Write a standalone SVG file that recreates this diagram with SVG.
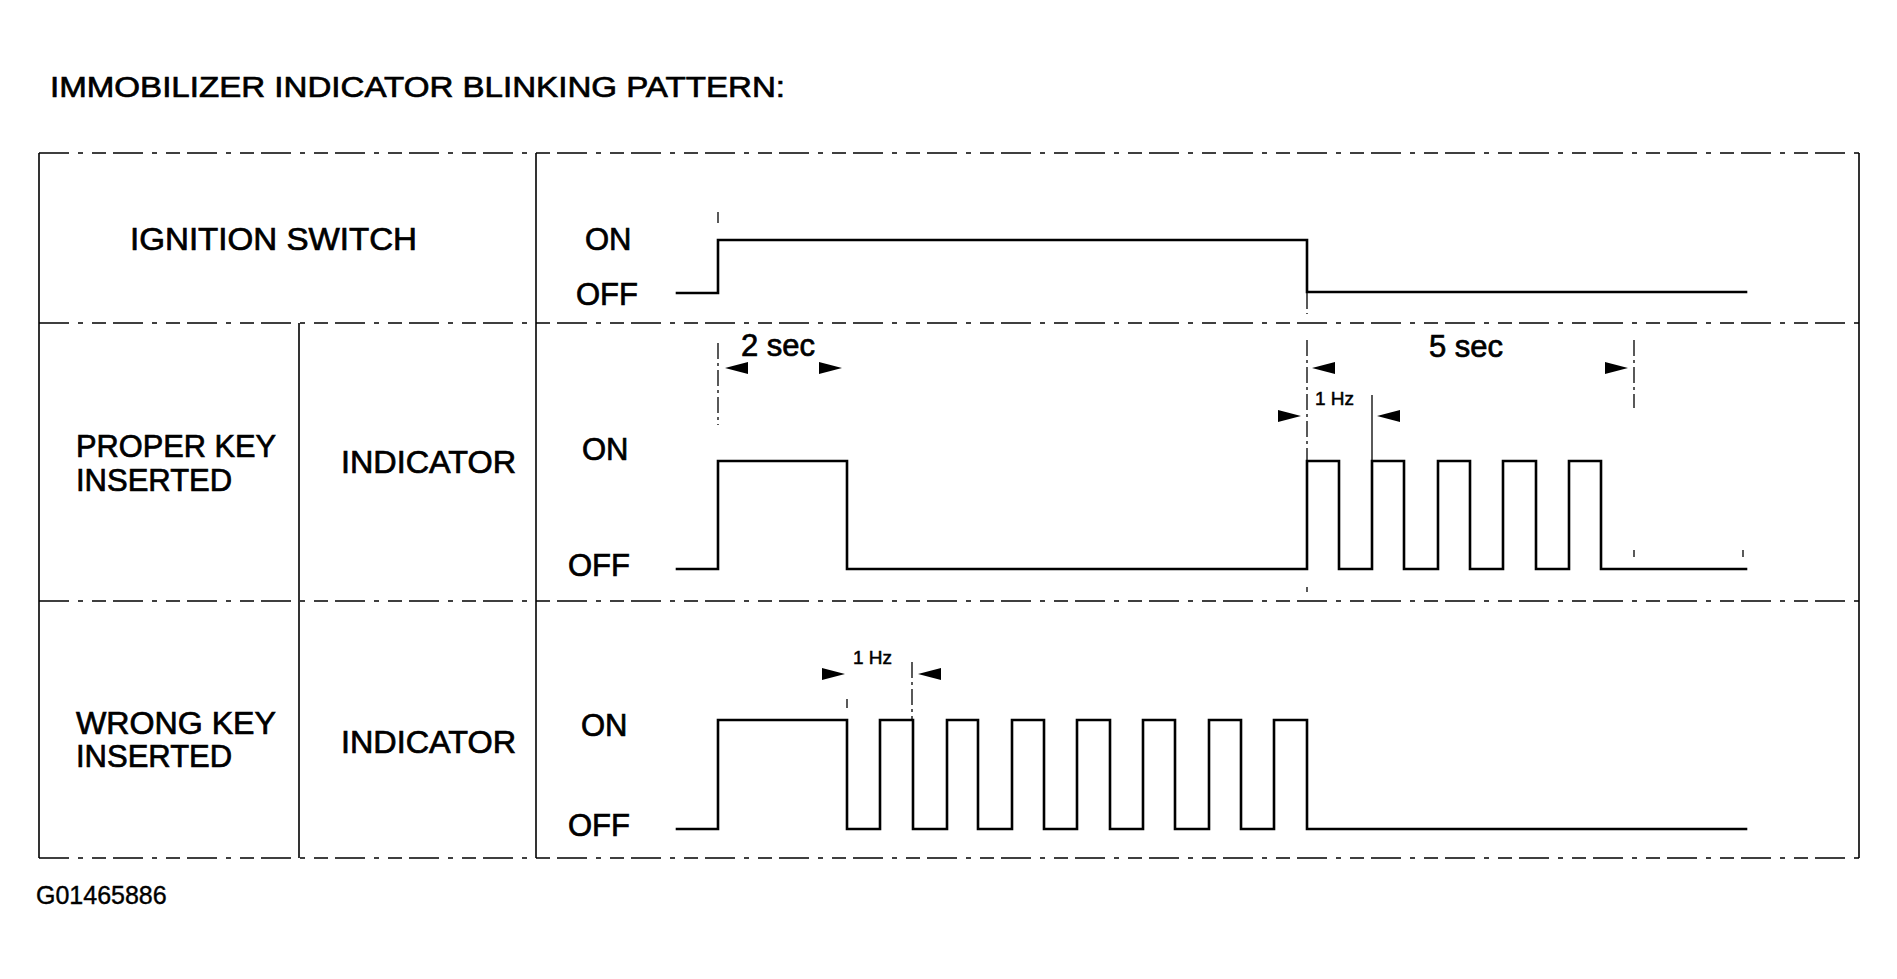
<svg xmlns="http://www.w3.org/2000/svg" xmlns:xlink="http://www.w3.org/1999/xlink" width="1897" height="979" viewBox="0 0 1897 979">
  <style>
    text { font-family: "Liberation Sans", Arial, sans-serif; fill: #000; stroke: #000; stroke-width: 0.7; }
    .lbl { font-size: 31px; }
    .small { font-size: 19px; stroke-width: 0.5; }
    .title { font-size: 30px; }
    .code { font-size: 25px; stroke-width: 0.4; }
    .hline { stroke: #000; stroke-width: 1.6; fill: none; stroke-dasharray: 30 9 5 9 14 7; }
    .vline { stroke: #000; stroke-width: 1.6; fill: none; }
    .wave { stroke: #000; stroke-width: 2.6; fill: none; stroke-linejoin: miter; stroke-linecap: square; }
    .ext { stroke: #000; stroke-width: 1.3; fill: none; stroke-dasharray: 16 4 3 4; }
    .extsolid { stroke: #000; stroke-width: 1.3; fill: none; }
  </style>
  <defs>
    <path id="arrL" d="M0,0 L23,-6 L23,6 Z" fill="#000"/>
    <path id="arrR" d="M0,0 L-23,-6 L-23,6 Z" fill="#000"/>
  </defs>
  <rect width="1897" height="979" fill="#fff"/>

  <g id="title">
    <text class="title" x="50" y="97" textLength="735" lengthAdjust="spacingAndGlyphs">IMMOBILIZER INDICATOR BLINKING PATTERN:</text>
  </g>

  <g id="table">
    <line class="hline" x1="39" y1="153" x2="1859" y2="153"/>
    <line class="hline" x1="39" y1="323" x2="1859" y2="323"/>
    <line class="hline" x1="39" y1="601" x2="1859" y2="601"/>
    <line class="hline" x1="39" y1="858" x2="1859" y2="858"/>
    <line class="vline" x1="39" y1="153" x2="39" y2="858"/>
    <line class="vline" x1="536" y1="153" x2="536" y2="858"/>
    <line class="vline" x1="299" y1="323" x2="299" y2="858"/>
    <line class="vline" x1="1859" y1="153" x2="1859" y2="858"/>
  </g>

  <g id="row-ignition">
    <text class="lbl" x="130" y="250" textLength="287" lengthAdjust="spacingAndGlyphs">IGNITION SWITCH</text>
    <text class="lbl" x="585" y="250">ON</text>
    <text class="lbl" x="576" y="305">OFF</text>
  </g>

  <g id="row-proper">
    <text class="lbl"><tspan x="76" y="457" textLength="200" lengthAdjust="spacingAndGlyphs">PROPER KEY</tspan><tspan x="76" dy="34">INSERTED</tspan></text>
    <text class="lbl" x="341" y="473" textLength="175" lengthAdjust="spacingAndGlyphs">INDICATOR</text>
    <text class="lbl" x="582" y="460">ON</text>
    <text class="lbl" x="568" y="576">OFF</text>
    <text class="lbl" x="741" y="356">2 sec</text>
    <text class="lbl" x="1429" y="357">5 sec</text>
    <text class="small" x="1315" y="405">1 Hz</text>
  </g>

  <g id="row-wrong">
    <text class="lbl"><tspan x="76" y="734" textLength="200" lengthAdjust="spacingAndGlyphs">WRONG KEY</tspan><tspan x="76" dy="33">INSERTED</tspan></text>
    <text class="lbl" x="341" y="753" textLength="175" lengthAdjust="spacingAndGlyphs">INDICATOR</text>
    <text class="lbl" x="581" y="736">ON</text>
    <text class="lbl" x="568" y="836">OFF</text>
    <text class="small" x="853" y="664">1 Hz</text>
  </g>

  <g id="connectors">
    <path class="wave" d="M677,293 H718 V240 H1307 V292 H1746"/>
    <path class="wave" d="M677,569 H718 V461 H847 V569 H1307 V461 H1339 V569 H1372 V461 H1404 V569 H1438 V461 H1470 V569 H1503 V461 H1536 V569 H1569 V461 H1601 V569 H1746"/>
    <path class="wave" d="M677,829 H718 V720 H847 V829 H880 V720 H913 V829 H947 V720 H978 V829 H1012 V720 H1044 V829 H1077 V720 H1110 V829 H1143 V720 H1175 V829 H1209 V720 H1241 V829 H1274 V720 H1307 V829 H1746"/>

    <line class="ext" x1="718" y1="212" x2="718" y2="223"/>
    <line class="ext" x1="718" y1="343" x2="718" y2="425"/>
    <line class="ext" x1="1307" y1="293" x2="1307" y2="314"/>
    <line class="ext" x1="1307" y1="340" x2="1307" y2="460"/>
    <line class="ext" x1="1307" y1="587" x2="1307" y2="592"/>
    <line class="extsolid" x1="1372" y1="395" x2="1372" y2="460"/>
    <line class="ext" x1="1634" y1="340" x2="1634" y2="408"/>
    <line class="extsolid" x1="1634" y1="550" x2="1634" y2="557"/>
    <line class="extsolid" x1="1743" y1="550" x2="1743" y2="557"/>
    <line class="ext" x1="847" y1="699" x2="847" y2="708"/>
    <line class="ext" x1="912" y1="662" x2="912" y2="719"/>

    <use xlink:href="#arrL" x="725" y="368"/>
    <use xlink:href="#arrR" x="842" y="368"/>
    <use xlink:href="#arrL" x="1312" y="368"/>
    <use xlink:href="#arrR" x="1628" y="368"/>
    <use xlink:href="#arrR" x="1301" y="416"/>
    <use xlink:href="#arrL" x="1377" y="416"/>
    <use xlink:href="#arrR" x="845" y="674"/>
    <use xlink:href="#arrL" x="918" y="674"/>
  </g>

  <g id="code">
    <text class="code" x="36" y="904">G01465886</text>
  </g>
</svg>
